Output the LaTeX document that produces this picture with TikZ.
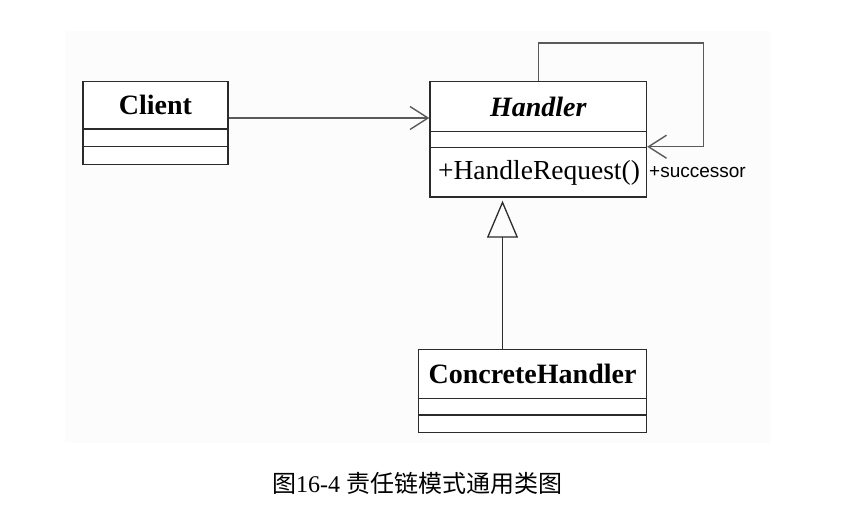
\documentclass[tikz,border=0pt]{standalone}
\usepackage{fontspec}
\setmainfont{Liberation Serif}
\newfontfamily\rolefont{Liberation Sans}
\newfontfamily\cjkfont{Noto Sans CJK SC}
\usetikzlibrary{arrows.meta}
\definecolor{boxline}{HTML}{2B2B2B}
\definecolor{linkline}{HTML}{5A5A5A}
\definecolor{scanbg}{HTML}{FCFCFC}
\tikzset{
  umlbox/.style={draw=boxline, line width=1.4pt, fill=white, inner sep=0pt},
  classname/.style={font=\fontsize{28}{28}\selectfont\bfseries, inner sep=0pt},
  member/.style={font=\fontsize{27.5}{27.5}\selectfont, inner sep=0pt},
  rolelabel/.style={font={\rolefont\fontsize{19}{19}\selectfont}, inner sep=0pt},
  assoc/.style={draw=linkline, line width=1.4pt, -{Straight Barb[length=18pt,width=23pt]}},
  inherit/.style={draw=boxline, line width=1.3pt, -{Triangle[open,length=37pt,width=31pt]}},
}
\begin{document}
\begin{tikzpicture}[x=1pt,y=-1pt]
    \useasboundingbox (0,0) rectangle (845,530);
    % Scanned page background
    \fill[scanbg] (65,31) rectangle (770,443);

    % Class boxes
    \node[umlbox, minimum width=145pt, minimum height=83pt] (client) at (155.5,123) {};
    \node[umlbox, minimum width=216.5pt, minimum height=115.5pt] (handler) at (538.25,139.25) {};
    \node[umlbox, minimum width=228pt, minimum height=83pt] (concrete) at (532.5,391) {};

    % Compartment lines
    \foreach \cls/\ya/\yb in {client/129/146.5, handler/131.5/147.5, concrete/398.5/415} {
        \draw[boxline, line width=1.4pt] (\cls.west |- 0,\ya) -- (\cls.east |- 0,\ya);
        \draw[boxline, line width=1.4pt] (\cls.west |- 0,\yb) -- (\cls.east |- 0,\yb);
    }

    % Names and operations
    \node[classname] (clientname) at (155.5,105) {Client};
    \node[classname] (handlername) at (538.25,106.5) {\itshape Handler};
    \node[member] (handlereq) at (539,172.5) {+HandleRequest()};
    \node[classname] (concretename) at (532.5,373.5) {ConcreteHandler};

    % Client uses Handler
    \draw[assoc] ([yshift=5pt]client.east) -- ([yshift=5pt]client.east -| handler.west);

    % Successor self association
    \draw[assoc] (handler.north) -- ++(0,-38) -| ([xshift=56pt,yshift=-7.5pt]handler.east)
        -- ([yshift=-7.5pt]handler.east);
    \node[rolelabel, anchor=west] (succ) at (649,172.5) {+successor};

    % ConcreteHandler extends Handler
    \draw[inherit, shorten >=3pt] ([xshift=-30pt]concrete.north) -- ([xshift=-30pt]concrete.north |- handler.south);

    % Caption
    \node[font=\fontsize{24}{24}\selectfont] (caption) at (417,483) {{\cjkfont 图}16-4 {\cjkfont 责任链模式通用类图}};
\end{tikzpicture}
\end{document}
